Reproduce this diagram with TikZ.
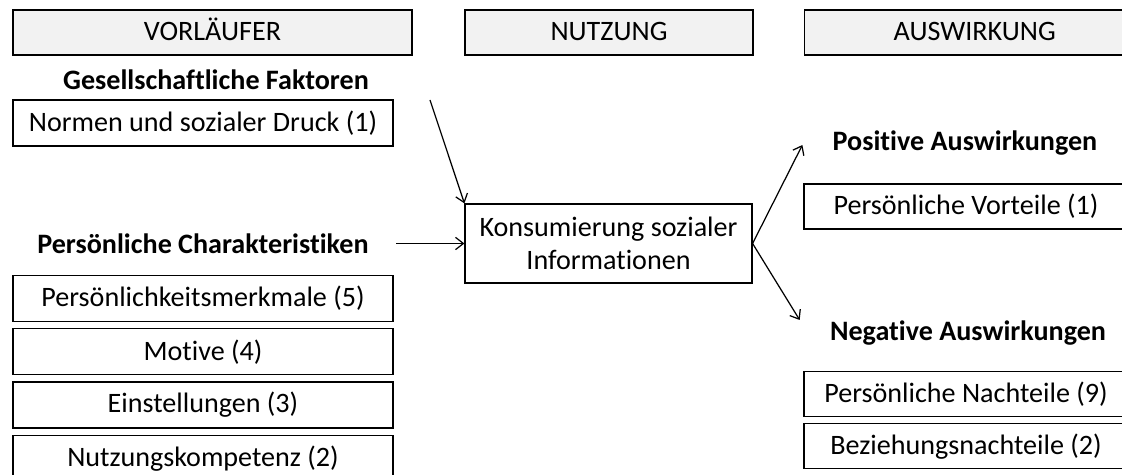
\documentclass[tikz,border=0pt]{standalone}
\usepackage{fontspec}
\setmainfont{Carlito}[Ligatures={NoCommon}]
\usetikzlibrary{positioning,calc,shadows,arrows.meta}

\begin{document}
\begin{tikzpicture}[
    x=0.02cm, y=-0.02cm,
    every node/.style={font=\fontsize{16}{19}\selectfont, inner sep=0pt},
    header/.style={draw, rectangle, fill=black!5, minimum height=0.9cm, line width=0.8pt,
        text height=11pt, text depth=2pt,
        drop shadow={shadow xshift=0.6pt, shadow yshift=-0.6pt, fill=black!45}},
    item/.style={draw, rectangle, minimum width=7.6cm, minimum height=0.92cm, line width=0.7pt},
    result/.style={draw, rectangle, minimum width=6.48cm, minimum height=0.9cm, line width=0.7pt},
    group/.style={font=\fontsize{16}{19}\selectfont\bfseries},
    link/.style={-{Straight Barb[length=4.5pt,width=7pt]}, line width=0.7pt},
    node distance=0.12cm
]
    \useasboundingbox (0,0) rectangle (1122,475);

    \node[header, minimum width=7.98cm] (vorl) at (212.5,32.5) {VORLÄUFER};
    \node[header, minimum width=5.76cm] (nutz) at (609,32.5) {NUTZUNG};
    \node[header, minimum width=6.8cm, anchor=west] (ausw) at (804,32.5) {AUSWIRKUNG};

    \node[group] (gesell) at (216,80) {Gesellschaftliche Faktoren};
    \node[item] (normen) at (203,123) {Normen und sozialer Druck (1)};

    \node[group] (perschar) at (203,243.5) {Persönliche Charakteristiken};
    \node[item] (merkmale) at (203,298.5) {Persönlichkeitsmerkmale (5)};
    \node[item, below=of merkmale] (motive) {Motive (4)};
    \node[item, below=of motive] (einst) {Einstellungen (3)};
    \node[item, below=of einst] (kompetenz) {Nutzungskompetenz (2)};

    \node[draw, rectangle, minimum width=5.74cm, minimum height=1.58cm, line width=0.7pt,
        align=center] (konsum) at (608.5,243.5) {Konsumierung sozialer\\Informationen};

    \node[group] (positiv) at (965,143) {Positive Auswirkungen};
    \node[result] (vorteile) at (966,206.5) {Persönliche Vorteile (1)};
    \node[group] (negativ) at (968,333) {Negative Auswirkungen};
    \node[result] (nachteile) at (966,394) {Persönliche Nachteile (9)};
    \node[result, below=of nachteile] (bezieh) {Beziehungsnachteile (2)};

    \coordinate (gesellend) at (430,100);
    \draw[link] (gesellend) -- (konsum.north west);
    \draw[link] ($(perschar.east)+(27,0)$) -- (konsum.west);
    \draw[link] (konsum.east) -- ($(positiv.west)+(-30,2)$);
    \draw[link] (konsum.east) -- ($(negativ.west)+(-30,-13)$);
\end{tikzpicture}
\end{document}
